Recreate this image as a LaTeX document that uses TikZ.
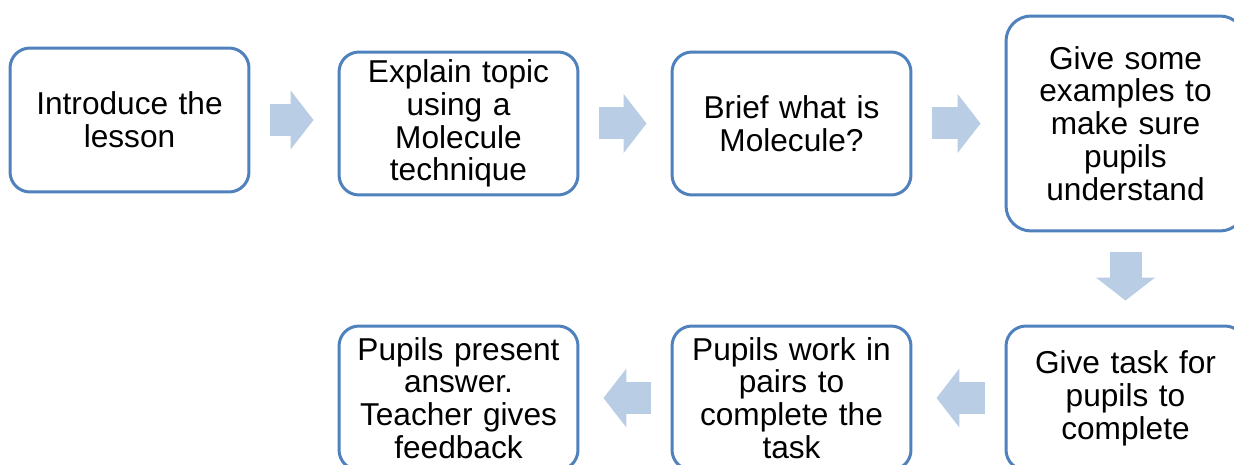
\documentclass[tikz,border=0pt]{standalone}
\usepackage{fontspec}
\setmainfont{Liberation Sans}
\usepackage{xcolor}
\usepackage{tikz}
\usetikzlibrary{arrows.meta,positioning}
\definecolor{boxline}{HTML}{4F81BD}
\definecolor{arrowfill}{HTML}{B9CDE5}

\begin{document}
\begin{tikzpicture}[x=0.02cm,y=-0.02cm,
    stepbox/.style={draw=boxline, line width=1.7pt, fill=white, rounded corners=0.4cm,
        minimum width=4.78cm, text width=4.4cm, align=center, inner sep=0pt,
        font=\fontsize{18}{18.7}\selectfont},
    blockarrow/.style={draw=arrowfill, line width=0.64cm,
        -{Triangle[length=0.46cm,width=1.16cm]}, shorten <=0.4cm, shorten >=0.48cm}]
                \useasboundingbox (0,0) rectangle (1234,465);
                \clip (0,0) rectangle (1234,465);
                % top row
                \node[stepbox, minimum height=2.88cm] (intro) at (129.5,120) {Introduce the\\lesson};
                \node[stepbox, minimum height=2.86cm] (explain) at (458.5,123.5) {Explain topic\\using a\\Molecule\\technique};
                \node[stepbox, minimum height=2.86cm] (brief) at (791.5,123.5) {Brief what is\\Molecule?};
                \node[stepbox, minimum height=4.3cm, rounded corners=0.5cm] (examples) at (1125.5,123.5) {Give some\\examples to\\make sure\\pupils\\understand};
                % bottom row
                \node[stepbox, minimum height=2.88cm] (task) at (1125.5,398) {Give task for\\pupils to\\complete};
                \node[stepbox, minimum height=2.88cm] (pairs) at (791.5,398) {Pupils work in\\pairs to\\complete the\\task};
                \node[stepbox, minimum height=2.88cm] (present) at (458.5,398) {Pupils present\\answer.\\Teacher gives\\feedback};
                % arrows
                \draw[blockarrow] (intro.east) -- (intro.east -| explain.west);
                \draw[blockarrow] (explain.east) -- (brief.west);
                \draw[blockarrow] (brief.east) -- (brief.east -| examples.west);
                \draw[blockarrow] (examples.south) -- (task.north);
                \draw[blockarrow] (task.west) -- (pairs.east);
                \draw[blockarrow] (pairs.west) -- (present.east);
            \end{tikzpicture}
\end{document}
